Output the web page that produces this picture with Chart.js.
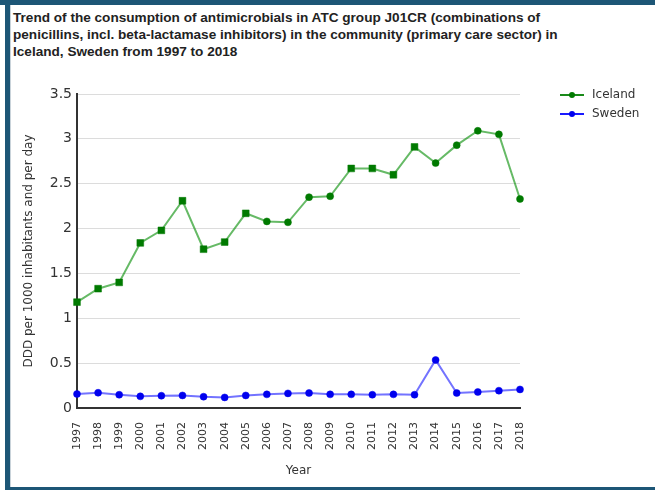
<!DOCTYPE html>
<html>
<head>
<meta charset="utf-8">
<script src="https://cdn.jsdelivr.net/npm/chart.js@4"></script>
<style>
  html, body { margin: 0; padding: 0; background: #fff; }
  body { width: 655px; height: 490px; position: relative; overflow: hidden; font-family: "Liberation Sans", Arial, sans-serif; }
  #topbar { position: absolute; left: 0; top: 0; width: 655px; height: 5px; background: #1d5676; }
  #leftbar { position: absolute; left: 5px; top: 0; width: 5px; height: 490px; background: #1d5676; }
  #leftline { position: absolute; left: 10px; top: 5px; width: 1px; height: 482px; background: #c9d3da; }
  #bottombar { position: absolute; left: 5px; top: 487px; width: 650px; height: 3px; background: #1d5676; }
  #title { position: absolute; left: 13px; top: 9px; width: 640px; font-weight: bold; font-size: 13.6px; line-height: 17px; color: #222; white-space: nowrap; }
  #wrap { position: absolute; left: 11px; top: 70px; width: 644px; height: 417px; }
  #legend { position: absolute; left: 560px; top: 86px; font-size: 12px; color: #333; font-family: "DejaVu Sans", Verdana, sans-serif; }
  .li { position: relative; height: 19px; line-height: 17px; }
  .li .ln { position: absolute; left: 0; top: 8px; width: 24px; height: 2px; }
  .li .dt { position: absolute; left: 9px; top: 6px; width: 6px; height: 6px; border-radius: 50%; }
  .li .tx { position: absolute; left: 32px; top: 0; white-space: nowrap; }
</style>
</head>
<body>
<div id="topbar"></div>
<div id="leftbar"></div>
<div id="leftline"></div>
<div id="bottombar"></div>
<div id="title">Trend of the consumption of antimicrobials in ATC group J01CR (combinations of<br>penicillins, incl. beta-lactamase inhibitors) in the community (primary care sector) in<br>Iceland, Sweden from 1997 to 2018</div>
<div id="wrap"><canvas id="c" width="644" height="417"></canvas></div>
<div id="legend">
  <div class="li"><div class="ln" style="background:#1a8a1a"></div><div class="dt" style="background:#007a00"></div><div class="tx">Iceland</div></div>
  <div class="li"><div class="ln" style="background:#1a1aff"></div><div class="dt" style="background:#0000ee"></div><div class="tx">Sweden</div></div>
</div>
<script>
const years = ["1997","1998","1999","2000","2001","2002","2003","2004","2005","2006","2007","2008","2009","2010","2011","2012","2013","2014","2015","2016","2017","2018"];
const iceland = [1.18,1.33,1.40,1.84,1.98,2.31,1.77,1.85,2.17,2.08,2.07,2.35,2.36,2.67,2.67,2.60,2.91,2.73,2.93,3.09,3.05,2.33];
const sweden = [0.156,0.170,0.148,0.130,0.137,0.140,0.126,0.118,0.140,0.152,0.163,0.167,0.152,0.152,0.148,0.152,0.148,0.535,0.167,0.178,0.193,0.207];
const icelandMarkers = ["rect","rect","rect","rect","rect","rect","rect","rect","rect","circle","circle","circle","circle","rect","rect","rect","rect","circle","circle","circle","circle","circle"];
const yTicks = [0,0.5,1,1.5,2,2.5,3,3.5];

const font = "'DejaVu Sans', Verdana, sans-serif";
new Chart(document.getElementById('c'), {
  type: 'line',
  data: {
    labels: years,
    datasets: [
      { label: 'Iceland', data: iceland, borderColor: 'rgba(0,140,0,0.6)', borderWidth: 2,
        pointStyle: icelandMarkers,
        pointRadius: ctx => icelandMarkers[ctx.dataIndex] === 'rect' ? 4.8 : 3.5,
        pointBackgroundColor: '#007a00', pointBorderColor: '#007a00', pointBorderWidth: 0.5, tension: 0 },
      { label: 'Sweden', data: sweden, borderColor: 'rgba(40,40,255,0.65)', borderWidth: 2,
        pointStyle: 'circle', pointRadius: 3.5, pointBackgroundColor: '#0000ee', pointBorderColor: '#0000ee', pointBorderWidth: 0.5, tension: 0 }
    ]
  },
  options: {
    responsive: false,
    animation: false,
    layout: { padding: { top: 24, right: 135, left: 0, bottom: 0 } },
    plugins: { legend: { display: false }, tooltip: { enabled: false } },
    scales: {
      x: {
        offset: false,
        grid: { display: false, drawTicks: false },
        border: { display: true, color: '#333', width: 2 },
        ticks: { autoSkip: false, maxRotation: 90, minRotation: 90, padding: 14, color: '#333', font: { family: font, size: 11 } },
        title: { display: true, text: 'Year', color: '#333', font: { family: font, size: 12 }, padding: { top: 4, bottom: 9 } },
        afterFit: s => { s.height = 79; }
      },
      y: {
        min: 0, max: 3.5,
        afterBuildTicks: s => { s.ticks = yTicks.map(v => ({ value: v })); },
        grid: { color: '#dcdcdc', lineWidth: 1, drawTicks: false },
        border: { display: true, color: '#333', width: 2 },
        ticks: { padding: 5, color: '#333', font: { family: font, size: 14 }, callback: v => String(v) },
        title: { display: true, text: 'DDD per 1000 inhabitants and per day', color: '#333', font: { family: font, size: 12 }, padding: { top: 11, bottom: 6 } },
        afterFit: s => { s.width = 66; }
      }
    }
  }
});
</script>
</body>
</html>
